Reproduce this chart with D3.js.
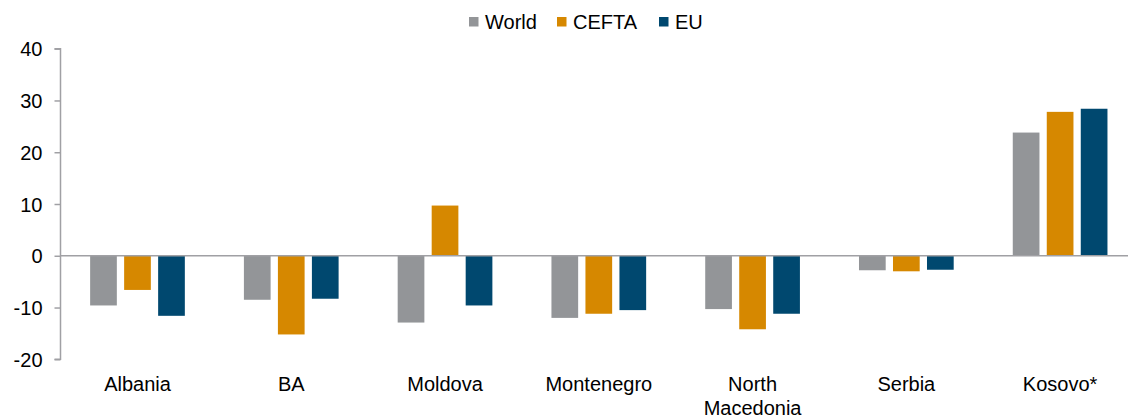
<!DOCTYPE html>
<html><head><meta charset="utf-8">
<script src="https://cdn.jsdelivr.net/npm/d3@7"></script>
<style>body{margin:0;background:#fff}svg{display:block}text{font-family:"Liberation Sans",Arial,sans-serif;fill:#000}</style>
</head><body>
<svg id="c" width="1128" height="419"></svg>
<script>
const categories = ["Albania","BA","Moldova","Montenegro","North Macedonia","Serbia","Kosovo*"];
const seriesNames = ["World","CEFTA","EU"];
const world = [-9.6,-8.5,-12.9,-12.0,-10.3,-2.8,23.8];
const cefta = [-6.6,-15.2,9.7,-11.2,-14.2,-3.0,27.8];
const eu = [-11.6,-8.3,-9.6,-10.5,-11.2,-2.7,28.4];
const yTicks = [-20,-10,0,10,20,30,40];
const colors = ["#939598","#D68800","#00486F"];

const values = [world, cefta, eu];
const svg = d3.select("#c");
const x = d3.scaleBand().domain(categories).range([60.6, 1137]).paddingInner(0).paddingOuter(0);
const y = d3.scaleLinear().domain([-20,40]).range([359.3, 48.7]);
const barW = 26.7, step = 34;
const FS = "20px";

// y axis
const yAxis = d3.axisLeft(y).tickValues(yTicks).tickSize(6).tickFormat(d=>String(d));
const gy = svg.append("g").attr("transform","translate(60.5,0)").call(yAxis);
gy.select(".domain").attr("stroke","#a0a0a4").attr("stroke-width",1.5).attr("d","M-6,48.7H0V359.3H-6");
gy.selectAll(".tick line").attr("stroke","#a0a0a4").attr("stroke-width",1.5);
gy.selectAll(".tick text").attr("x",-18).attr("dy","0.35em").style("font-size",FS).style("font-family","'Liberation Sans',Arial,sans-serif").attr("fill","#000");

// bars
seriesNames.forEach((s,si)=>{
  svg.append("g").selectAll("rect").data(categories).join("rect")
    .attr("x",d=>x(d)+x.bandwidth()/2 + (si-1)*step - barW/2)
    .attr("width",barW)
    .attr("y",(d,i)=>y(Math.max(0,values[si][i])))
    .attr("height",(d,i)=>Math.abs(y(values[si][i])-y(0)))
    .attr("fill",colors[si]);
});

// zero line
svg.append("line").attr("x1",60.5).attr("x2",1128).attr("y1",y(0)).attr("y2",y(0))
  .attr("stroke","#a0a0a4").attr("stroke-width",1.5);

// category labels
const gl = svg.append("g");
categories.forEach(c=>{
  const words = c === "North Macedonia" ? ["North","Macedonia"] : [c];
  const t = gl.append("text").attr("text-anchor","middle").style("font-size",FS);
  words.forEach((w,i)=>t.append("tspan").attr("x",x(c)+x.bandwidth()/2).attr("y",391+i*24).text(w));
});

// legend
const legendX = [469,557,659];
const lg = svg.append("g");
seriesNames.forEach((s,i)=>{
  lg.append("rect").attr("x",legendX[i]).attr("y",17).attr("width",9.5).attr("height",9.5).attr("fill",colors[i]);
  lg.append("text").attr("x",legendX[i]+16).attr("y",29).style("font-size",FS).text(s);
});
</script>
</body></html>
